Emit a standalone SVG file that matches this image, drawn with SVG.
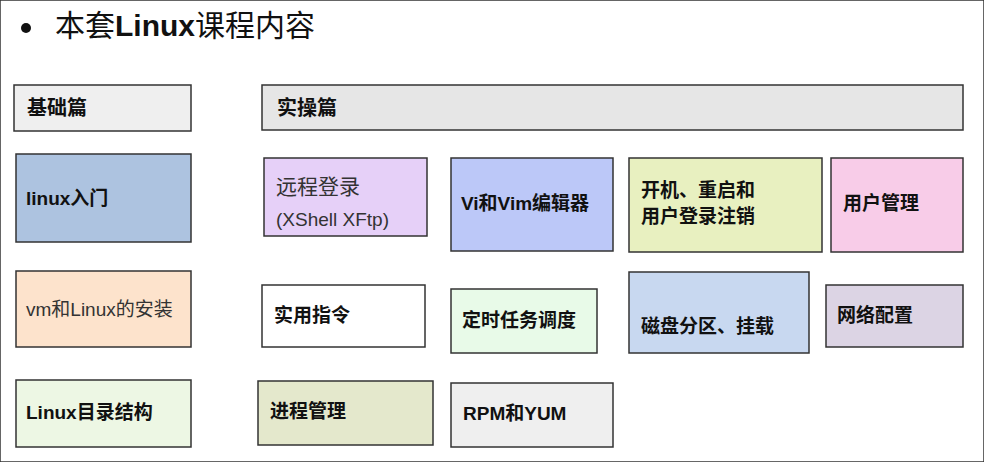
<svg xmlns="http://www.w3.org/2000/svg" width="984" height="462" viewBox="0 0 984 462">
<style>
rect{stroke:#333;stroke-width:1.5}
text{font-family:"Liberation Sans","Noto Sans CJK SC",sans-serif;font-size:19px;font-weight:bold;fill:#111}
.h{font-family:"Liberation Serif","Noto Sans CJK SC",serif;font-size:20px}
.n{font-weight:normal;fill:#333}
</style>
<rect width="984" height="462" fill="#fff" stroke="none"/>
<g id="title"><circle cx="26" cy="28" r="5" fill="#111" stroke="none"/><text x="55" y="36" style="font-size:30px;font-weight:normal">本套<tspan font-weight="bold">Linux</tspan>课程内容</text></g>
<g id="basic"><rect x="14" y="85" width="177" height="46" fill="#efefef"/><text class="h" x="27" y="115">基础篇</text></g>
<g id="ops"><rect x="262" y="85" width="701" height="45" fill="#e6e6e6"/><text class="h" x="277" y="115">实操篇</text></g>
<g id="n1"><rect x="16" y="154" width="175" height="88" fill="#adc3e0"/><text x="26" y="205">linux入门</text></g>
<g id="n2"><rect x="16" y="271" width="175" height="76" fill="#fde3cc"/><text class="n" x="26" y="316">vm和Linux的安装</text></g>
<g id="n3"><rect x="16" y="380" width="175" height="67" fill="#edf7e4"/><text x="26" y="419">Linux目录结构</text></g>
<g id="n4"><rect x="264" y="158" width="163" height="78" fill="#e6d0f8"/><text class="n" x="276" y="194" style="font-size:21px">远程登录</text><text class="n" x="276" y="226">(XShell XFtp)</text></g>
<g id="n5"><rect x="451" y="158" width="162" height="93" fill="#bcc8f8"/><text x="461" y="210">Vi和Vim编辑器</text></g>
<g id="n6"><rect x="629" y="158" width="193" height="94" fill="#e8f0c0"/><text x="641" y="197">开机、重启和</text><text x="641" y="223">用户登录注销</text></g>
<g id="n7"><rect x="831" y="158" width="132" height="94" fill="#f8cce8"/><text x="843" y="210">用户管理</text></g>
<g id="n8"><rect x="262" y="285" width="163" height="62" fill="#fff"/><text x="274" y="322">实用指令</text></g>
<g id="n9"><rect x="451" y="289" width="146" height="64" fill="#e8fae8"/><text x="462" y="327">定时任务调度</text></g>
<g id="n10"><rect x="629" y="272" width="180" height="81" fill="#c8d8f0"/><text x="641" y="333">磁盘分区、挂载</text></g>
<g id="n11"><rect x="826" y="285" width="137" height="62" fill="#dcd4e4"/><text x="837" y="322">网络配置</text></g>
<g id="n12"><rect x="258" y="381" width="175" height="64" fill="#e4e8cc"/><text x="270" y="418">进程管理</text></g>
<g id="n13"><rect x="451" y="383" width="162" height="64" fill="#efefef"/><text x="463" y="420">RPM和YUM</text></g>
<g id="connectors"/>
</svg>
